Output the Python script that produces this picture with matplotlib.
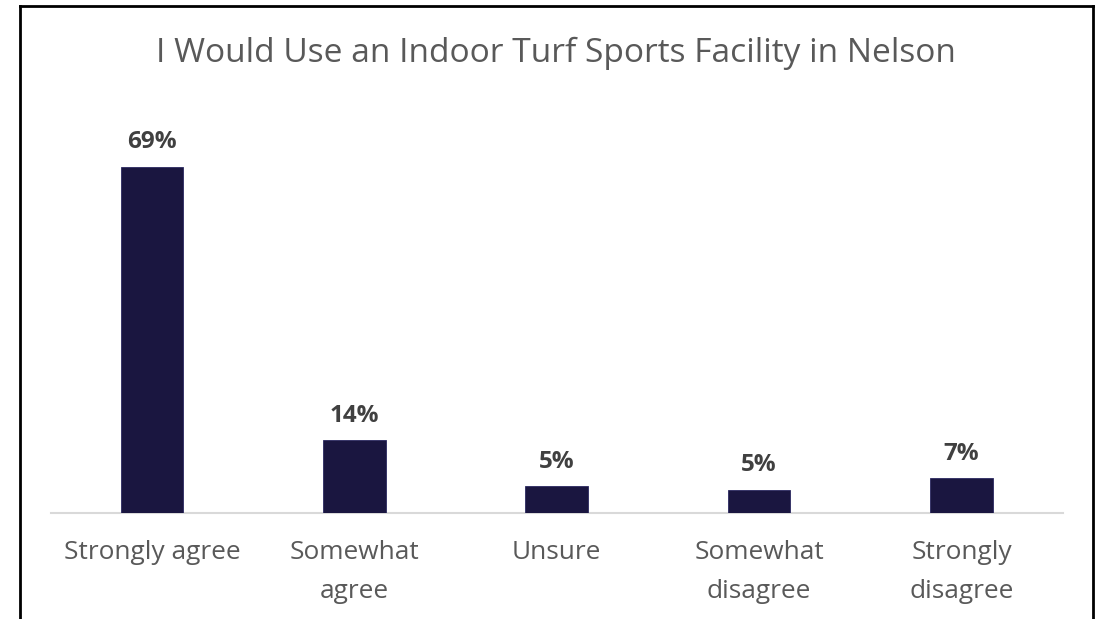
import matplotlib
matplotlib.use("Agg")
import matplotlib.pyplot as plt
from matplotlib.lines import Line2D

categories = ["Strongly agree", "Somewhat\nagree", "Unsure", "Somewhat\ndisagree", "Strongly\ndisagree"]
values = [69.0, 14.4, 5.3, 4.6, 6.9]
labels = ["69%", "14%", "5%", "5%", "7%"]
title = "I Would Use an Indoor Turf Sports Facility in Nelson"

W, H = 1099, 619
fig = plt.figure(figsize=(W / 100, H / 100), dpi=100)
fig.patch.set_facecolor("white")

def fx(px):
    return px / W

def fy(py):
    return 1 - py / H

ax = fig.add_axes([fx(50.7), fy(512.7), fx(1062.7) - fx(50.7), fy(111.5) - fy(512.7)])
ax.set_xlim(-0.5, len(categories) - 0.5)
ax.set_ylim(0, 80)
x = list(range(len(categories)))
ax.bar(x, values, width=0.31, color="#1A1640", edgecolor="#2b2960", linewidth=0.6, zorder=3)

for s in ["top", "right", "left"]:
    ax.spines[s].set_visible(False)
ax.spines["bottom"].set_color("#D9D9D9")
ax.spines["bottom"].set_linewidth(1.5)
ax.set_yticks([])
ax.set_xticks(x)
ax.set_xticklabels(categories, fontsize=18.9, color="#595959", family="Open Sans", linespacing=1.72)
ax.tick_params(axis="x", length=0, pad=20)

for xi, v, lab in zip(x, values, labels):
    ax.annotate(lab, (xi, v), xytext=(0, 17.5), textcoords="offset points", ha="center", va="center",
                fontsize=17.5, fontweight="bold", color="#404040", family="Open Sans")

fig.text(0.506, fy(53), title, ha="center", va="center", fontsize=24.1, color="#595959", family="Open Sans")

lw = 2.0
fig.add_artist(Line2D([fx(20), fx(20)], [fy(6), 0], color="black", lw=lw))
fig.add_artist(Line2D([fx(1093), fx(1093)], [fy(6), 0], color="black", lw=lw))
fig.add_artist(Line2D([fx(20), fx(1093)], [fy(6), fy(6)], color="black", lw=lw))

fig.savefig("out.png", dpi=100, facecolor="white")
